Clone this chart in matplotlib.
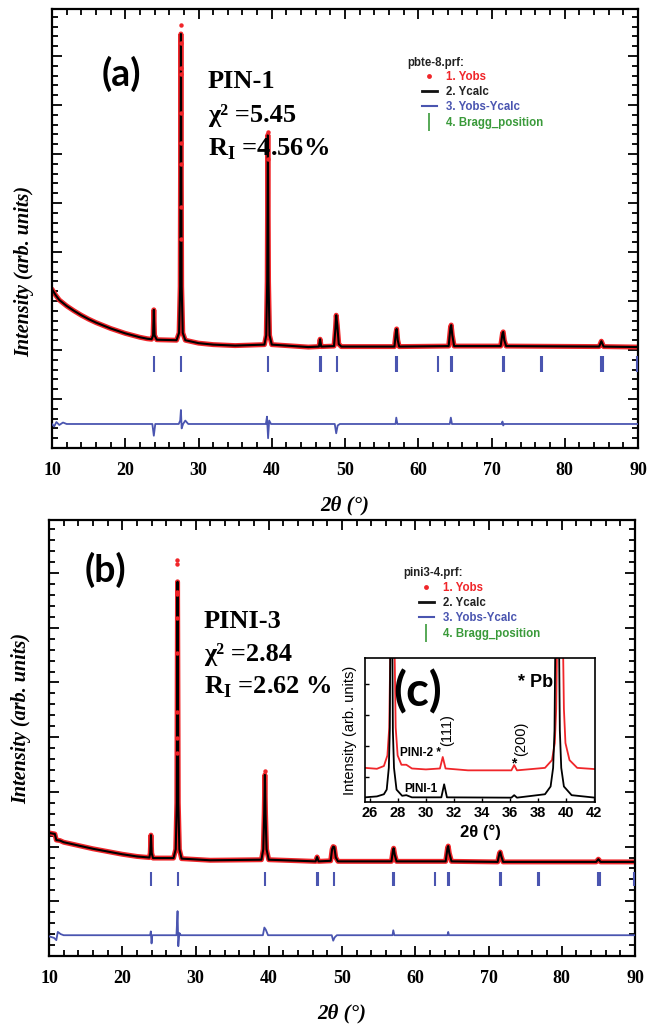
import numpy as np
import matplotlib
matplotlib.use('Agg')
import matplotlib.pyplot as plt
from matplotlib.lines import Line2D
from matplotlib.ticker import MultipleLocator

plt.rcParams['font.family'] = 'Liberation Serif'
plt.rcParams['mathtext.fontset'] = 'custom'
plt.rcParams['mathtext.rm'] = 'Liberation Serif:bold'
plt.rcParams['mathtext.bf'] = 'Liberation Serif:bold'

RED = '#f0262a'
BLUE = '#4a55b0'
GREEN = '#3a9a3a'

# ---- panel (a): PIN-1 ----
tt_a = [10, 10.5, 11, 12, 13, 14, 15, 16, 17, 18, 19, 20, 21, 22, 23, 23.6,
        23.8, 23.9, 24.0, 24.3, 27.0, 27.35, 27.5, 27.6, 27.7, 27.85, 28.2, 30, 32,
        35, 39.0, 39.25, 39.38, 39.47, 39.56, 39.7, 40.0, 45, 46.45, 46.6, 46.75,
        48.5, 48.7, 48.8, 48.95, 49.15, 49.5, 56.75, 56.95, 57.05, 57.2, 57.4,
        64.15, 64.4, 64.5, 64.65, 64.9, 71.25, 71.5, 71.6, 71.75, 72.0, 84.7, 85.0,
        85.3, 90]
calc_a = [3240, 3120, 3020, 2900, 2800, 2710, 2630, 2560, 2500, 2440, 2390, 2340,
          2300, 2260, 2230, 2220, 2300, 2820, 2300, 2210, 2200, 2350, 3300, 8450,
          3300, 2350, 2200, 2140, 2110, 2090, 2110, 2300, 3400, 6390, 3400, 2300,
          2110, 2060, 2070, 2220, 2070, 2080, 2450, 2710, 2500, 2120, 2070, 2070,
          2350, 2430, 2200, 2070, 2080, 2460, 2510, 2300, 2080, 2080, 2340, 2370,
          2200, 2080, 2070, 2180, 2070, 2060]
obs_top_x_a = [27.6] * 9 + [39.47, 39.47]
obs_top_a = [8630, 8270, 7760, 7630, 6840, 6220, 5800, 4920, 4270, 6450, 5900]
diff_x_a = [10, 10.3, 10.6, 11, 11.5, 12, 23.7, 23.9, 24.1, 27.3, 27.5, 27.6, 27.7,
            27.9, 28.2, 28.6, 39.2, 39.35, 39.5, 39.65, 39.9, 48.6, 48.8, 49.0,
            49.3, 56.9, 57.0, 57.15, 64.3, 64.45, 64.6, 71.4, 71.5, 71.6, 71.7, 90]
diff_a = [490, 440, 530, 470, 520, 490, 490, 250, 490, 490, 560, 775, 400, 490,
          560, 490, 490, 640, 200, 560, 490, 490, 300, 460, 490, 490, 620, 490,
          490, 620, 490, 490, 540, 460, 490, 490]

# ---- panel (b): PINI-3 ----
tt_b = [10, 10.8, 11.0, 11.5, 12, 14, 16, 18, 20, 22, 23.7, 23.82, 23.92, 24.02,
        24.2, 27.0, 27.3, 27.45, 27.55, 27.65, 27.8, 28.1, 32, 39.0, 39.25, 39.38,
        39.47, 39.56, 39.7, 40.0, 46.4, 46.6, 46.8, 48.45, 48.65, 48.8, 48.95,
        49.15, 49.45, 56.75, 56.95, 57.05, 57.2, 57.45, 64.15, 64.4, 64.5, 64.65,
        64.95, 71.25, 71.5, 71.6, 71.75, 72.0, 84.7, 85.0, 85.3, 90]
calc_b = [2250, 2230, 2120, 2110, 2080, 2020, 1960, 1910, 1860, 1820, 1800, 1880,
          2210, 1880, 1790, 1790, 1950, 2800, 6840, 2800, 1950, 1780, 1750, 1760,
          1950, 2600, 3310, 2600, 1950, 1760, 1730, 1810, 1730, 1740, 1950, 2000,
          1990, 1800, 1730, 1730, 1920, 1970, 1850, 1730, 1730, 1970, 2010, 1880,
          1730, 1720, 1880, 1900, 1820, 1720, 1720, 1770, 1720, 1720]
obs_top_x_b = [27.52] * 9 + [39.47]
obs_top_b = [7240, 7170, 6650, 6620, 6180, 5540, 4460, 3990, 3710, 3380]
diff_x_b = [10, 10.7, 11.0, 11.2, 11.6, 12, 23.8, 23.9, 24.0, 24.1, 27.4, 27.55,
            27.65, 27.8, 28.0, 39.2, 39.4, 39.6, 39.9, 48.6, 48.8, 49.0, 49.3,
            56.9, 57.0, 57.15, 64.4, 64.5, 64.6, 90]
diff_b = [360, 330, 290, 440, 400, 380, 380, 450, 230, 380, 380, 820, 180, 420,
          380, 380, 520, 480, 380, 380, 280, 340, 380, 380, 470, 380, 380, 440,
          380, 380]

bragg = [23.9, 27.65, 39.5, 46.6, 46.75, 48.85, 57.0, 57.15, 62.7, 64.5, 64.65,
         71.55, 71.7, 76.8, 76.95, 84.95, 85.25, 89.9]

# ---- inset (c) ----
ins_x_red = [25.65, 26.5, 27.0, 27.25, 27.38, 27.47, 27.75, 27.84, 27.98, 28.25,
             28.6, 29.0, 30.0, 31.0, 31.2, 31.4, 33.0, 35.0, 36.1, 36.3, 36.5, 38.5,
             39.0, 39.2, 39.3, 39.37, 39.78, 39.85, 39.96, 40.25, 40.8, 42.07]
ins_red = [0.30, 0.27, 0.36, 0.7, 1.6, 4.5, 4.5, 1.6, 0.7, 0.4, 0.40, 0.28, 0.25,
           0.28, 0.65, 0.28, 0.22, 0.22, 0.22, 0.39, 0.22, 0.30, 0.55, 1.1, 2.2,
           4.5, 4.5, 2.2, 1.1, 0.55, 0.30, 0.26]
ins_x_blk = [25.65, 26.5, 27.0, 27.2, 27.35, 27.42, 27.46, 27.6, 27.64, 27.72,
             27.9, 28.3, 28.6, 29.0, 31.1, 31.3, 31.5, 36.1, 36.3, 36.5, 38.5, 38.9,
             39.08, 39.18, 39.24, 39.5, 39.56, 39.66, 39.85, 40.4, 42.07]
ins_blk = [-0.65, -0.62, -0.55, -0.4, 0.3, 1.5, 4.5, 4.5, 1.5, 0.3, -0.4, -0.6,
           -0.58, -0.65, -0.65, -0.23, -0.65, -0.66, -0.58, -0.66, -0.55, -0.3,
           0.3, 1.5, 4.5, 4.5, 1.5, 0.3, -0.3, -0.58, -0.66]

W, H = 657, 1027
fig = plt.figure(figsize=(6.57, 10.27), dpi=100)


def main_panel(rect, tt, calc, otx, oty, dx, dy, ymax, blo, bhi, ylab_y):
    ax = fig.add_axes(rect)
    ax.plot(tt, calc, color=RED, lw=3.6, solid_capstyle='round', zorder=2)
    ax.plot(tt, calc, color='k', lw=1.5, zorder=3)
    ax.plot(otx, oty, 'o', color=RED, ms=3.2, mew=0, zorder=4)
    ax.plot(dx, dy, color=BLUE, lw=1.3, zorder=3)
    ax.vlines(bragg, blo, bhi, color=BLUE, lw=1.5, zorder=3)
    ax.set_xlim(10, 90)
    ax.set_ylim(0, ymax)
    ax.xaxis.set_major_locator(MultipleLocator(10))
    ax.xaxis.set_minor_locator(MultipleLocator(2))
    ax.yaxis.set_major_locator(MultipleLocator(1000))
    ax.yaxis.set_minor_locator(MultipleLocator(200))
    ax.tick_params(which='both', direction='in', top=True, right=True, width=1.3)
    ax.tick_params(which='major', length=7)
    ax.tick_params(which='minor', length=4)
    ax.tick_params(axis='x', pad=10, labelsize=13)
    ax.set_yticklabels([])
    for lab in ax.get_xticklabels():
        lab.set_fontweight('bold')
    for s in ax.spines.values():
        s.set_linewidth(1.6)
    ax.set_xlabel('2θ (°)', fontsize=15, style='italic', fontweight='bold', labelpad=12)
    ax.set_ylabel('Intensity (arb. units)', fontsize=14.5, style='italic', fontweight='bold')
    ax.yaxis.set_label_coords(-0.031, ylab_y)
    return ax


def legend_block(ax, title, tx, ty, x, y):
    ax.text(tx, ty, title, transform=ax.transAxes, va='center', ha='left',
            family='Liberation Sans', fontweight='bold', fontsize=8.3, color='#222222')
    handles = [Line2D([], [], ls='none', marker='o', ms=3.5, mew=0, color=RED),
               Line2D([], [], color='#111111', lw=2),
               Line2D([], [], color=BLUE, lw=1.5),
               Line2D([], [], ls='none', marker='|', ms=13, mew=1.2, color=GREEN)]
    labels = ['1. Yobs', '2. Ycalc', '3. Yobs-Ycalc', '4. Bragg_position']
    ax.legend(handles, labels, loc='upper left', bbox_to_anchor=(x, y),
              frameon=False, borderpad=0, borderaxespad=0, handlelength=1.3,
              handletextpad=0.8, labelspacing=0.28,
              labelcolor=[RED, '#222222', BLUE, GREEN],
              prop=dict(family='Liberation Sans', weight='bold', size=8.3))


def stats_text(ax, x, y0, dy, name, chi, rval):
    kw = dict(transform=ax.transAxes, fontsize=19, fontweight='bold', va='baseline')
    ax.text(x, y0, name, **kw)
    ax.text(x, y0 - dy, 'χ² =' + chi, **kw)
    ax.text(x, y0 - 2 * dy, r'R$_{\mathrm{I}}$ =' + rval, **kw)


ax_a = main_panel([52 / W, 1 - 448 / H, 586 / W, 439 / H], tt_a, calc_a,
                  obs_top_x_a, obs_top_a, diff_x_a, diff_a, 8960, 1550, 1880, 0.403)
ax_a.text(0.119, 0.852, '(a)', transform=ax_a.transAxes, ha='center', va='center',
          fontsize=27, fontweight='bold', family='Lato')
stats_text(ax_a, 0.266, 0.820, 0.077, 'PIN-1', '5.45', '4.56%')
legend_block(ax_a, 'pbte-8.prf:', 0.607, 0.877, 0.631, 0.859)

ax_b = main_panel([49 / W, 1 - 956 / H, 586 / W, 436 / H], tt_b, calc_b,
                  obs_top_x_b, obs_top_b, diff_x_b, diff_b, 7970, 1280, 1540, 0.546)
ax_b.text(0.0956, 0.885, '(b)', transform=ax_b.transAxes, ha='center', va='center',
          fontsize=27, fontweight='bold', family='Lato')
stats_text(ax_b, 0.2645, 0.752, 0.075, 'PINI-3', '2.84', '2.62 %')
legend_block(ax_b, 'pini3-4.prf:', 0.604, 0.878, 0.631, 0.858)

# inset (c)
axi = fig.add_axes([365 / W, 1 - 802 / H, 230 / W, 144 / H])
axi.plot(ins_x_red, ins_red, color=RED, lw=1.3)
axi.plot(ins_x_blk, ins_blk, color='k', lw=1.3)
axi.set_xlim(25.65, 42.07)
axi.set_ylim(-0.8, 3.84)
axi.xaxis.set_major_locator(MultipleLocator(2))
axi.set_yticks([0, 1, 2, 3])
axi.set_yticklabels([])
axi.tick_params(direction='in', length=3, width=1)
axi.tick_params(axis='x', pad=3, labelsize=10.5)
for lab in axi.get_xticklabels():
    lab.set_family('Liberation Sans')
    lab.set_fontweight('bold')
for s in axi.spines.values():
    s.set_linewidth(1.2)
axi.set_xlabel('2θ (°)', family='Liberation Sans', fontweight='bold', fontsize=12, labelpad=3)
axi.set_ylabel('Intensity (arb. units)', family='Liberation Sans', fontsize=10.5, labelpad=2)
sans = dict(family='Liberation Sans', fontweight='bold')
axi.text(31.05, 0.77, 'PINI-2 *', ha='right', va='center', fontsize=8.5, **sans)
axi.text(28.45, -0.39, 'PINI-1', ha='left', va='center', fontsize=8.5, **sans)
axi.text(31.5, 1.52, '(111)', rotation=90, ha='center', va='center', fontsize=10.5,
         family='Liberation Sans')
axi.text(36.8, 1.22, '(200)', rotation=90, ha='center', va='center', fontsize=10.5,
         family='Liberation Sans')
axi.text(36.3, 0.45, '*', ha='center', va='center', fontsize=10, **sans)
axi.text(37.85, 3.06, '* Pb', ha='center', va='center', fontsize=13, **sans)
axi.text(29.4, 2.75, '(c)', ha='center', va='center', fontsize=34,
         family='Lato', fontweight='bold')

fig.savefig('out.png', dpi=100)
